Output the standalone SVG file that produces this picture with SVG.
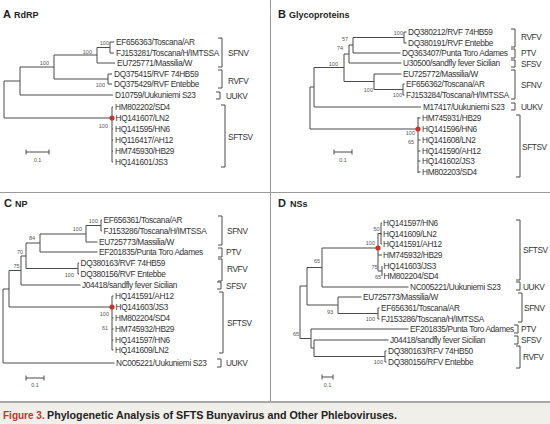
<svg xmlns="http://www.w3.org/2000/svg" width="550" height="424" viewBox="0 0 550 424">
<style>
text{font-family:"Liberation Sans",Arial,sans-serif}
.tip{font-size:8.3px;letter-spacing:-0.35px;fill:#333}
.bs{font-size:5.5px;fill:#555;text-anchor:end}
.cl{font-size:8.3px;letter-spacing:-0.4px;fill:#333}
.pl{font-size:11px;font-weight:bold;fill:#222}
.pt{font-size:9px;font-weight:bold;fill:#222}
.sc{font-size:5.5px;fill:#555;text-anchor:middle}
.tree,.br,.bar{fill:none;stroke:#4a4a4a;stroke-width:1}
.dot{fill:#c4372e}
.sep{stroke:#9a9a9a;stroke-width:1}
</style>
<rect width="550" height="424" fill="#ffffff"/>
<rect x="0" y="403" width="550" height="21" fill="#f1efea"/>
<g id="frame">
<line class="sep" x1="270.5" y1="0" x2="270.5" y2="402"/>
<line class="sep" x1="0" y1="192.5" x2="550" y2="192.5"/>
<line x1="0" y1="402" x2="550" y2="402" stroke="#a8a8a8" stroke-width="2"/>
</g>

<!-- Panel A -->
<g id="panelA">
<text class="pl" x="3" y="18">A</text><text class="pt" x="14" y="18">RdRP</text>
<g id="connectorsA">
<path class="tree" d="M110,42V53M110,42H114M110,53H114M97,47.5H110M97,47.5V63H115M54,55H97M54,55V79H108M108,74V84M108,74H112M108,84H112M20,67H54M20,67V95H113M4,81H20M4,81V118H112M112,107V162M112,107H113M112,129H113M112,140H113M112,151H113M112,162H113"/>
<circle class="dot" cx="112" cy="118" r="2.6"/>
<text class="bs" x="109" y="45">100</text>
<text class="bs" x="92" y="54">100</text>
<text class="bs" x="49" y="64.5">100</text>
<text class="bs" x="105" y="87">100</text>
<text class="bs" x="108" y="128">100</text>
<path class="bar" d="M26,152H49M26,149.5V154.5M49,149.5V154.5"/>
<text class="sc" x="37.5" y="162">0.1</text>
</g>
<g id="a-ef656363"><text class="tip" x="116" y="45">EF656363/Toscana/AR</text></g>
<g id="a-fj153281"><text class="tip" x="116" y="56">FJ153281/Toscana/H/IMTSSA</text></g>
<g id="a-eu725771"><text class="tip" x="117" y="66">EU725771/Massilia/W</text></g>
<g id="a-dq375415"><text class="tip" x="114" y="77">DQ375415/RVF 74HB59</text></g>
<g id="a-dq375429"><text class="tip" x="114" y="87">DQ375429/RVF Entebbe</text></g>
<g id="a-d10759"><text class="tip" x="115" y="98">D10759/Uukuniemi S23</text></g>
<g id="a-hm802202"><text class="tip" x="115" y="110">HM802202/SD4</text></g>
<g id="a-hq141607"><text class="tip" x="115.5" y="121">HQ141607/LN2</text></g>
<g id="a-hq141595"><text class="tip" x="115" y="132">HQ141595/HN6</text></g>
<g id="a-hq116417"><text class="tip" x="115" y="143">HQ116417/AH12</text></g>
<g id="a-hm745930"><text class="tip" x="115" y="154">HM745930/HB29</text></g>
<g id="a-hq141601"><text class="tip" x="115" y="165">HQ141601/JS3</text></g>
<g id="cladesA">
<path class="br" d="M218,38H222V67H218M218,70H222V88H218M216,92H220V99H216M221,105H225V167H221"/>
<text class="cl" x="228" y="56">SFNV</text>
<text class="cl" x="228" y="84">RVFV</text>
<text class="cl" x="226" y="99">UUKV</text>
<text class="cl" x="228" y="140">SFTSV</text>
</g>
</g>

<!-- Panel B -->
<g id="panelB">
<text class="pl" x="278" y="18">B</text><text class="pt" x="289" y="18">Glycoproteins</text>
<g id="connectorsB">
<path class="tree" d="M404,32V43M404,32H406.5M404,43H406.5M353,37.5H404M353,37.5V53H400.5M349,45H353M349,45V63H401.5M344,54H349M344,54V81.5H374M374,74V89.5M374,74H401.5M374,89.5H403M403,84V95M403,84H404.5M403,95H404.5M314,67.5H344M314,67.5V107H421M310,87H314M310,87V129H418M418,117V173M418,118H420.5M418,140H420.5M418,151H420.5M418,161H420.5M418,172H420.5"/>
<circle class="dot" cx="418" cy="129" r="2.6"/>
<text class="bs" x="403" y="35">100</text>
<text class="bs" x="348" y="41">57</text>
<text class="bs" x="343" y="50">74</text>
<text class="bs" x="338" y="66">100</text>
<text class="bs" x="373" y="92">100</text>
<text class="bs" x="402" y="97">100</text>
<text class="bs" x="415" y="135">100</text>
<text class="bs" x="414" y="144">65</text>
<path class="bar" d="M334,152H352M334,149.5V154.5M352,149.5V154.5"/>
<text class="sc" x="343" y="162">0.1</text>
</g>
<g id="b-dq380212"><text class="tip" x="408" y="35">DQ380212/RVF 74HB59</text></g>
<g id="b-dq380191"><text class="tip" x="408" y="46">DQ380191/RVF Entebbe</text></g>
<g id="b-dq363407"><text class="tip" x="402" y="56">DQ363407/Punta Toro Adames</text></g>
<g id="b-u30500"><text class="tip" x="403" y="66">U30500/sandfly fever Sicilian</text></g>
<g id="b-eu725772"><text class="tip" x="403" y="77">EU725772/Massilia/W</text></g>
<g id="b-ef656362"><text class="tip" x="406" y="87">EF656362/Toscana/AR</text></g>
<g id="b-fj153284"><text class="tip" x="406" y="98">FJ153284/Toscana/H/IMTSSA</text></g>
<g id="b-m17417"><text class="tip" x="423" y="110">M17417/Uukuniemi S23</text></g>
<g id="b-hm745931"><text class="tip" x="422" y="121">HM745931/HB29</text></g>
<g id="b-hq141596"><text class="tip" x="422" y="132">HQ141596/HN6</text></g>
<g id="b-hq141608"><text class="tip" x="422" y="143">HQ141608/LN2</text></g>
<g id="b-hq141590"><text class="tip" x="422" y="154">HQ141590/AH12</text></g>
<g id="b-hq141602"><text class="tip" x="422" y="164">HQ141602/JS3</text></g>
<g id="b-hm802203"><text class="tip" x="422" y="175">HM802203/SD4</text></g>
<g id="cladesB">
<path class="br" d="M511,29H515V47H511M511,49H515V58H511M511,60H515V67H511M511,70H515V99H511M511,103H515V110H511M516,115H520V177H516"/>
<text class="cl" x="521" y="40">RVFV</text>
<text class="cl" x="521" y="56">PTV</text>
<text class="cl" x="521" y="67">SFSV</text>
<text class="cl" x="521" y="88">SFNV</text>
<text class="cl" x="521" y="110">UUKV</text>
<text class="cl" x="522" y="150">SFTSV</text>
</g>
</g>

<!-- Panel C -->
<g id="panelC">
<text class="pl" x="4" y="207">C</text><text class="pt" x="15" y="207">NP</text>
<g id="connectorsC">
<path class="tree" d="M101,220V231M101,220H102M101,231H102M86,225.5H101M86,225.5V242H97.5M40,234H86M40,234V252H97.5M26,243H40M26,243V268.5H78M78,263V274M78,263H79M78,274H79M21,256H26M21,256V285H80.5M9,270.5H21M9,270.5V307H112M3,289H9M3,289V363H114.5M112,296V350M112,296H113.5M112,318H113.5M112,329H113.5M112,340H113.5M112,350H113.5"/>
<circle class="dot" cx="112" cy="307" r="2.6"/>
<text class="bs" x="98" y="223">100</text>
<text class="bs" x="82" y="231">100</text>
<text class="bs" x="35" y="240">84</text>
<text class="bs" x="23" y="254">70</text>
<text class="bs" x="19.5" y="268">75</text>
<text class="bs" x="74" y="277">100</text>
<text class="bs" x="109" y="316">100</text>
<text class="bs" x="108" y="330">61</text>
<path class="bar" d="M26,378H44M26,375.5V380.5M44,375.5V380.5"/>
<text class="sc" x="35" y="387">0.1</text>
</g>
<g id="c-ef656361"><text class="tip" x="103.5" y="223">EF656361/Toscana/AR</text></g>
<g id="c-fj153286"><text class="tip" x="103.5" y="234">FJ153286/Toscana/H/IMTSSA</text></g>
<g id="c-eu725773"><text class="tip" x="99" y="245">EU725773/Massilia/W</text></g>
<g id="c-ef201835"><text class="tip" x="99" y="255">EF201835/Punta Toro Adames</text></g>
<g id="c-dq380163"><text class="tip" x="80.5" y="266">DQ380163/RVF 74HB59</text></g>
<g id="c-dq380156"><text class="tip" x="80.5" y="277">DQ380156/RVF Entebbe</text></g>
<g id="c-j04418"><text class="tip" x="82" y="288">J04418/sandfly fever Sicilian</text></g>
<g id="c-hq141591"><text class="tip" x="115" y="299">HQ141591/AH12</text></g>
<g id="c-hq141603"><text class="tip" x="115.5" y="310">HQ141603/JS3</text></g>
<g id="c-hm802204"><text class="tip" x="115" y="321">HM802204/SD4</text></g>
<g id="c-hm745932"><text class="tip" x="115" y="332">HM745932/HB29</text></g>
<g id="c-hq141597"><text class="tip" x="115" y="343">HQ141597/HN6</text></g>
<g id="c-hq141609"><text class="tip" x="115" y="353">HQ141609/LN2</text></g>
<g id="c-nc005221"><text class="tip" x="116" y="366">NC005221/Uukuniemi S23</text></g>
<g id="cladesC">
<path class="br" d="M218,216H222V245H218M218,248H222V257H218M218,259H222V281H218M217,282H221V289H217M219,292H223V353H219M217,359H221V367H217"/>
<text class="cl" x="227" y="234">SFNV</text>
<text class="cl" x="226" y="255">PTV</text>
<text class="cl" x="227" y="272">RVFV</text>
<text class="cl" x="226" y="289">SFSV</text>
<text class="cl" x="227" y="326">SFTSV</text>
<text class="cl" x="226" y="366">UUKV</text>
</g>
</g>

<!-- Panel D -->
<g id="panelD">
<text class="pl" x="278" y="207">D</text><text class="pt" x="290" y="207">NSs</text>
<g id="connectorsD">
<path class="tree" d="M381,223V244M381,223H382M381,234H382M381,244H382M378,233.5H381M378,255H382M382,266V276M378,271H382M378,233.5V271M322,248H378M322,248V287H408.5M307,267.5H322M307,267.5V305M307,305H338M338,297V313.5M338,297H361.5M338,313.5H378M378,308V319M378,308H379.5M378,319H379.5M300,286H307M300,286V338.5H311M311,329V348M311,329H408.5M311,348H314M314,340V356.5M314,340H388.5M314,356.5H385M385,351V362M385,351H386.5M385,362H386.5"/>
<circle class="dot" cx="378" cy="248" r="2.6"/>
<text class="bs" x="379.5" y="231">50</text>
<text class="bs" x="375" y="245">100</text>
<text class="bs" x="377.5" y="269">75</text>
<text class="bs" x="381" y="279">65</text>
<text class="bs" x="320" y="263">65</text>
<text class="bs" x="333" y="314">93</text>
<text class="bs" x="375" y="321">100</text>
<text class="bs" x="299" y="336">65</text>
<text class="bs" x="383" y="364">100</text>
<path class="bar" d="M322,377H333M322,374.5V379.5M333,374.5V379.5"/>
<text class="sc" x="327.5" y="387">0.1</text>
</g>
<g id="d-hq141597"><text class="tip" x="383" y="226">HQ141597/HN6</text></g>
<g id="d-hq141609"><text class="tip" x="383" y="237">HQ141609/LN2</text></g>
<g id="d-hq141591"><text class="tip" x="383" y="247">HQ141591/AH12</text></g>
<g id="d-hm745932"><text class="tip" x="383" y="258">HM745932/HB29</text></g>
<g id="d-hq141603"><text class="tip" x="383.5" y="269">HQ141603/JS3</text></g>
<g id="d-hm802204"><text class="tip" x="383.5" y="279">HM802204/SD4</text></g>
<g id="d-nc005221"><text class="tip" x="410" y="290">NC005221/Uukuniemi S23</text></g>
<g id="d-eu725773"><text class="tip" x="363" y="300">EU725773/Massilia/W</text></g>
<g id="d-ef656361"><text class="tip" x="381" y="311">EF656361/Toscana/AR</text></g>
<g id="d-fj153286"><text class="tip" x="381" y="322">FJ153286/Toscana/H/IMTSSA</text></g>
<g id="d-ef201835"><text class="tip" x="410" y="332">EF201835/Punta Toro Adames</text></g>
<g id="d-j04418"><text class="tip" x="390" y="343">J04418/sandfly fever Sicilian</text></g>
<g id="d-dq380163"><text class="tip" x="388" y="354">DQ380163/RFV 74HB50</text></g>
<g id="d-dq380156"><text class="tip" x="388" y="365">DQ380156/RFV Entebbe</text></g>
<g id="cladesD">
<path class="br" d="M516,220H520V280H516M516,282H520V290H516M518,293H522V322H518M514,325H518V333H514M514,336H518V344H514M516,346H520V368H516"/>
<text class="cl" x="523" y="253">SFTSV</text>
<text class="cl" x="523" y="290">UUKV</text>
<text class="cl" x="524" y="311">SFNV</text>
<text class="cl" x="521" y="332">PTV</text>
<text class="cl" x="521" y="343">SFSV</text>
<text class="cl" x="523" y="360">RVFV</text>
</g>
</g>

<g id="caption">
<text x="3" y="418.5" font-size="10" font-weight="bold" fill="#c4322f">Figure 3.</text>
<text x="47" y="418.5" font-size="10" font-weight="bold" fill="#222" textLength="350" lengthAdjust="spacingAndGlyphs">Phylogenetic Analysis of SFTS Bunyavirus and Other Phleboviruses.</text>
</g>
</svg>
